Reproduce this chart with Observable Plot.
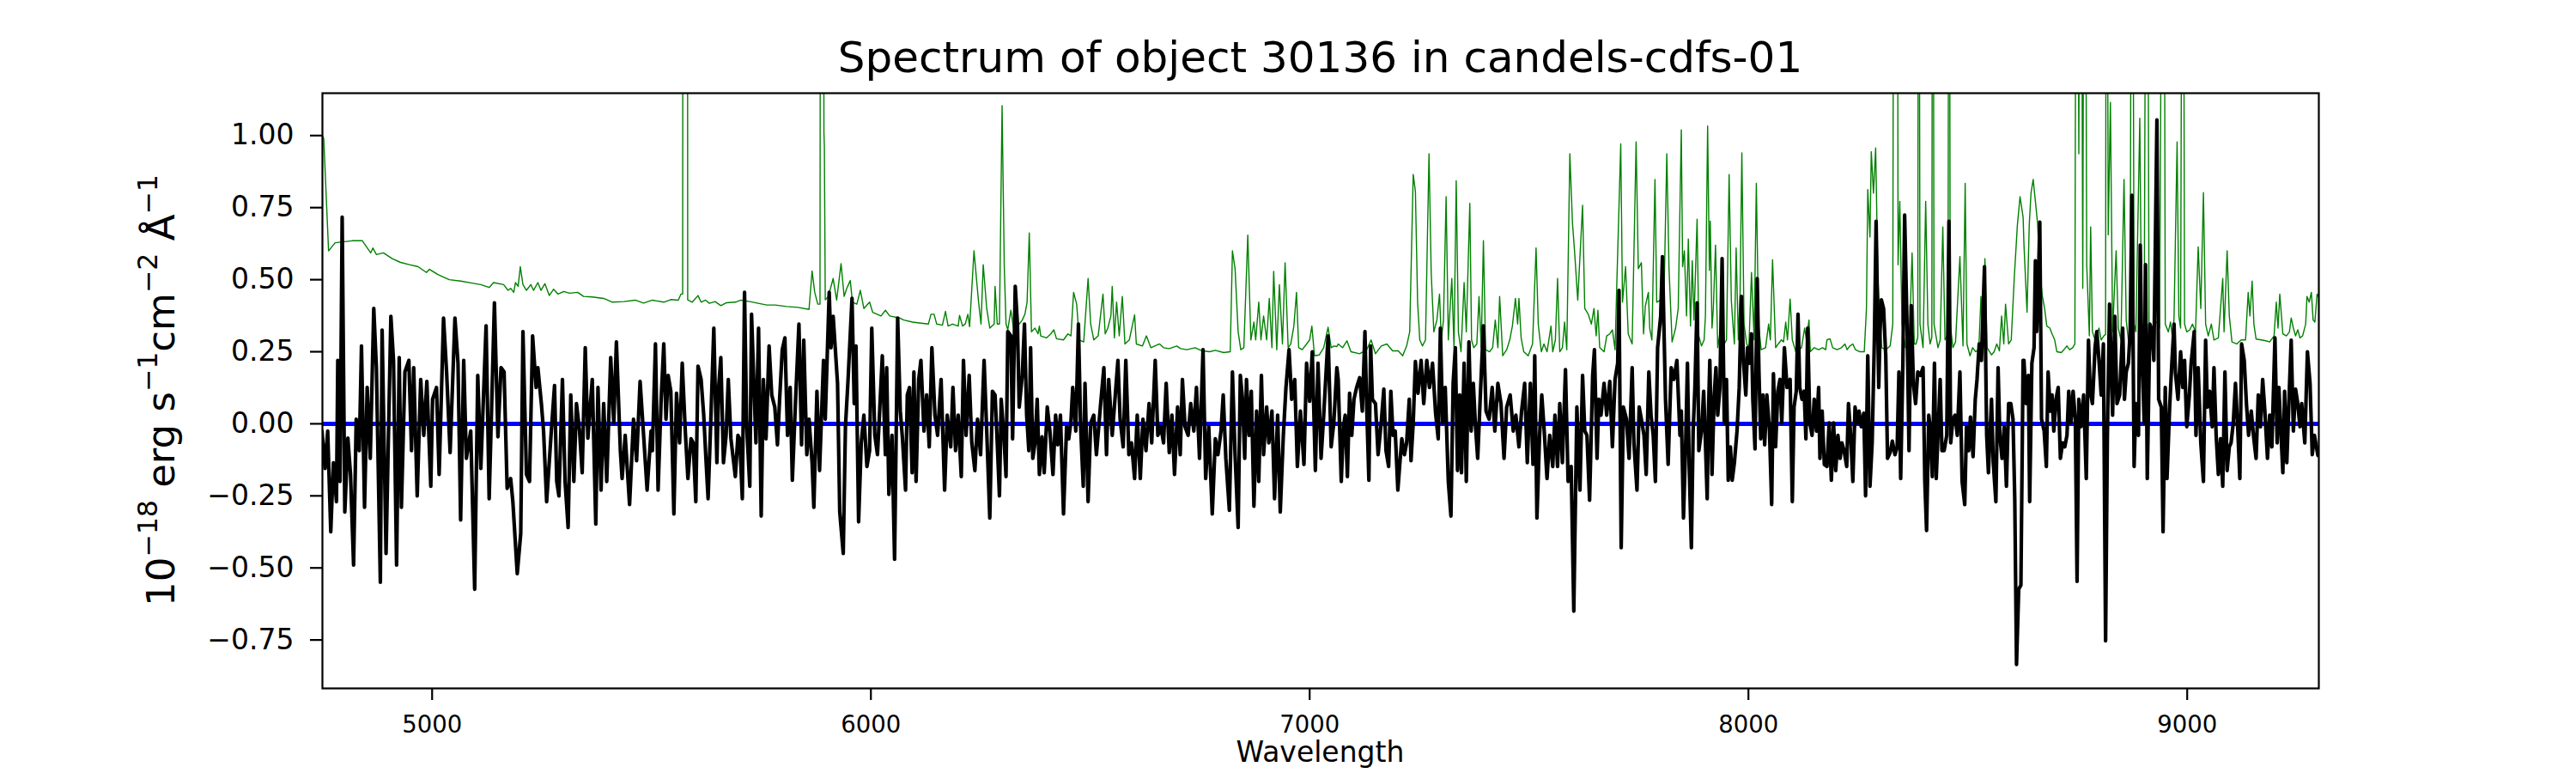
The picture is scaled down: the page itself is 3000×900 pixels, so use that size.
<!DOCTYPE html>
<html><head><meta charset="utf-8">
<script src="https://cdn.jsdelivr.net/npm/d3@7"></script>
<script src="https://cdn.jsdelivr.net/npm/@observablehq/plot@0.6"></script>
<style>
html,body{margin:0;padding:0;background:#fff;}
#chart{width:3000px;height:900px;}
</style></head><body><div id="chart"></div>
<script>
const titleText = "Spectrum of object 30136 in candels-cdfs-01";
const xLabelText = "Wavelength";
const xTicks = [5000, 6000, 7000, 8000, 9000];
const yTicks = [-0.75, -0.5, -0.25, 0, 0.25, 0.5, 0.75, 1.0];
const xDomain = [4750, 9300];
const yDomain = [-0.918, 1.147];

// observed flux [wavelength, flux]
const flux_A = [[4749,-0.025],[4756,-0.155],[4762,-0.025],[4769,-0.375],[4775,-0.135],[4782,-0.27],[4785,0.22],[4790,-0.20],[4795,0.717],[4801,-0.306],[4808,-0.05],[4814,-0.176],[4821,-0.49],[4827,0.016],[4834,-0.093],[4839,0.27],[4846,-0.29],[4852,0.126],[4859,-0.12],[4867,0.40],[4873,0.195],[4882,-0.55],[4886,0.325],[4895,-0.45],[4906,0.373],[4912,0.22],[4919,-0.49],[4925,0.23],[4930,-0.29],[4938,0.18],[4947,0.22],[4953,-0.093],[4958,0.195],[4966,-0.25],[4974,0.154],[4981,-0.04],[4988,0.147],[4997,-0.217],[5001,0.085],[5010,0.126],[5016,-0.176],[5026,0.367],[5033,0.18],[5041,-0.10],[5052,0.367],[5059,0.21],[5065,-0.334],[5072,0.22],[5078,-0.12],[5088,-0.025],[5097,-0.574],[5104,0.168],[5111,-0.155],[5123,0.34],[5130,-0.26],[5142,0.42],[5150,-0.045],[5157,0.195],[5164,0.18],[5171,-0.224],[5179,-0.19],[5184,-0.27],[5194,-0.52],[5202,-0.38],[5207,0.32],[5215,-0.176],[5222,-0.20],[5229,0.305],[5237,0.126],[5241,0.195],[5249,0.07],[5254,-0.025],[5261,-0.27],[5271,-0.04],[5279,0.133],[5284,-0.20],[5289,-0.25],[5297,0.154],[5303,-0.20],[5310,-0.36],[5316,0.10],[5323,-0.20],[5329,0.07],[5336,-0.025],[5342,-0.17],[5349,0.264],[5355,-0.05],[5365,0.154],[5373,-0.348],[5378,0.126],[5385,-0.23],[5391,0.07],[5398,-0.20],[5407,0.23],[5414,0.003],[5420,0.284],[5429,-0.093],[5433,-0.19],[5440,-0.04],[5450,-0.28],[5459,0.016],[5466,-0.128],[5474,0.147],[5482,-0.04],[5490,-0.23],[5499,-0.025]];
const flux_B = [[5502,-0.093],[5509,0.277],[5515,-0.23],[5522,0.085],[5528,0.277],[5533,0.016],[5538,0.168],[5544,0.113],[5551,-0.313],[5557,0.106],[5564,-0.066],[5570,0.21],[5577,-0.025],[5583,-0.19],[5590,-0.052],[5595,-0.066],[5601,-0.27],[5606,0.20],[5613,0.154],[5619,0.03],[5624,-0.12],[5629,-0.26],[5636,0.05],[5642,0.332],[5649,-0.135],[5653,0.126],[5658,0.23],[5664,-0.135],[5670,-0.04],[5675,0.154],[5681,-0.052],[5691,-0.183],[5697,-0.04],[5701,-0.052],[5707,-0.26],[5712,0.456],[5717,-0.01],[5724,-0.217],[5728,0.38],[5733,0.154],[5738,-0.066],[5744,0.332],[5750,-0.32],[5755,0.154],[5761,-0.052],[5768,0.27],[5774,0.10],[5781,0.058],[5787,-0.073],[5792,0.085],[5798,0.257],[5804,0.298],[5810,-0.04],[5816,0.126],[5821,-0.196],[5828,0.07],[5836,0.346],[5842,-0.073],[5847,0.29],[5854,-0.107],[5859,0.016],[5866,-0.135],[5870,-0.29],[5877,0.113],[5883,-0.162],[5892,0.22],[5896,0.016],[5905,0.456],[5909,0.264],[5914,0.373],[5919,0.257],[5924,0.14],[5929,-0.306],[5937,-0.45],[5942,-0.01],[5948,0.154],[5957,0.435],[5962,0.07],[5966,0.27],[5972,-0.34],[5978,-0.066],[5984,0.03],[5991,-0.148],[5997,-0.093],[6002,0.332],[6009,-0.04],[6015,-0.107],[6020,0.044],[6026,0.236],[6033,-0.107],[6036,0.195],[6041,-0.245],[6048,-0.04],[6054,-0.47],[6061,0.367],[6067,0.044],[6072,-0.052],[6079,-0.23],[6083,0.10],[6088,0.126],[6094,-0.17],[6098,0.18],[6103,-0.20],[6109,0.154],[6114,0.22],[6121,-0.025],[6127,0.10],[6133,-0.08],[6139,0.264],[6146,0.03],[6152,-0.04],[6160,0.154],[6168,-0.23],[6174,0.03],[6182,-0.08],[6187,0.126],[6193,-0.093],[6199,0.03],[6206,-0.183],[6211,0.22],[6217,-0.04],[6224,0.168],[6230,-0.066],[6237,-0.162],[6243,0.016],[6250,-0.107],[6258,0.22],[6264,-0.025],[6271,-0.327],[6277,0.113]];
const flux_C = [[6283,0.10],[6288,-0.066],[6293,-0.25],[6297,0.085],[6303,-0.04],[6308,-0.183],[6312,0.32],[6319,0.305],[6323,-0.052],[6329,0.477],[6334,0.346],[6338,0.058],[6345,0.168],[6350,0.346],[6355,0.03],[6360,-0.093],[6364,0.264],[6369,-0.12],[6374,-0.066],[6379,0.085],[6384,-0.176],[6390,-0.045],[6395,-0.17],[6402,0.058],[6408,-0.025],[6415,-0.176],[6421,0.03],[6426,-0.073],[6432,0.03],[6439,-0.313],[6446,-0.01],[6451,-0.052],[6456,0.01],[6460,0.126],[6467,-0.025],[6473,0.346],[6478,-0.01],[6484,-0.217],[6488,0.14],[6495,-0.27],[6501,0.003],[6508,0.03],[6514,-0.107],[6523,0.058],[6531,0.195],[6537,-0.107],[6542,0.154],[6550,-0.04],[6557,0.10],[6563,0.22],[6568,0.016],[6575,-0.08],[6581,0.22],[6588,-0.107],[6594,-0.066],[6601,-0.19],[6607,0.03],[6614,-0.19],[6620,0.016],[6627,-0.093],[6634,0.07],[6640,-0.066],[6648,0.22],[6654,-0.04],[6661,-0.01],[6667,-0.066],[6673,0.14],[6680,-0.10],[6686,0.03],[6692,-0.176],[6699,0.058],[6705,-0.107],[6710,0.154],[6716,-0.01],[6723,-0.04],[6729,0.07],[6736,-0.025],[6742,0.126],[6749,-0.12],[6757,0.257],[6763,-0.19],[6770,-0.01],[6778,-0.313],[6785,-0.052],[6791,-0.107],[6798,-0.025],[6803,0.10],[6809,-0.12],[6817,-0.30],[6824,0.18],[6830,-0.107],[6837,-0.36],[6842,0.168],[6847,0.085],[6852,-0.12],[6856,0.154],[6862,-0.04],[6867,0.113],[6873,-0.286],[6879,0.044],[6884,-0.20],[6890,0.168],[6895,-0.107],[6902,0.058],[6907,-0.066],[6914,0.044],[6920,-0.26],[6927,0.03],[6933,-0.306],[6940,-0.04],[6946,0.126],[6953,0.257],[6959,0.085],[6966,0.154],[6972,-0.148],[6979,0.044],[6987,-0.141],[6993,0.21],[7000,0.078],[7006,0.25],[7013,-0.162],[7019,0.21],[7026,-0.12],[7032,0.03],[7042,0.305],[7049,-0.08],[7055,0.003],[7062,0.195]];
const flux_D = [[7065,0.154],[7072,-0.20],[7077,-0.01],[7081,0.03],[7086,-0.183],[7091,0.106],[7096,-0.04],[7101,0.085],[7107,0.126],[7114,0.16],[7120,0.044],[7126,0.32],[7130,0.058],[7135,-0.196],[7139,0.27],[7143,0.085],[7150,0.07],[7156,-0.107],[7163,0.003],[7169,0.12],[7174,-0.093],[7180,-0.148],[7185,0.113],[7190,-0.04],[7195,-0.025],[7201,-0.23],[7205,-0.148],[7210,-0.052],[7216,-0.107],[7221,-0.066],[7227,0.085],[7231,-0.128],[7236,0.003],[7241,0.216],[7247,0.106],[7254,0.22],[7260,0.07],[7267,0.22],[7273,0.126],[7280,0.21],[7287,0.037],[7293,-0.052],[7298,0.332],[7303,0.003],[7309,0.126],[7316,-0.20],[7322,-0.32],[7327,0.14],[7332,0.264],[7337,-0.162],[7342,0.10],[7346,-0.17],[7352,0.21],[7357,-0.20],[7363,0.284],[7368,-0.025],[7373,0.14],[7378,-0.01],[7383,-0.12],[7389,0.10],[7396,0.34],[7402,0.044],[7409,0.016],[7416,0.126],[7422,-0.025],[7429,0.14],[7436,0.07],[7443,-0.12],[7449,0.058],[7457,0.10],[7464,-0.025],[7470,0.03],[7477,-0.08],[7483,0.044],[7490,0.14],[7496,-0.135],[7503,0.14],[7509,-0.141],[7513,0.236],[7518,-0.327],[7524,-0.04],[7529,0.10],[7534,-0.01],[7541,-0.19],[7547,-0.04],[7554,-0.148],[7559,0.03],[7565,-0.148],[7570,0.07],[7576,-0.135],[7583,0.188],[7589,-0.20],[7596,-0.148],[7602,-0.65],[7609,0.058],[7616,-0.23],[7622,0.168],[7627,-0.025],[7632,-0.04],[7638,-0.265],[7645,0.168],[7649,0.257],[7655,-0.12],[7659,0.085],[7664,0.03],[7671,0.14],[7677,0.03],[7684,0.147],[7690,-0.08],[7696,0.154],[7702,0.21],[7705,0.463],[7710,-0.43],[7715,0.058],[7722,0.016],[7728,-0.12],[7735,0.195],[7739,-0.066],[7746,-0.23],[7751,0.058],[7756,0.016],[7762,-0.04],[7767,-0.176],[7773,0.18],[7778,0.03],[7783,-0.04],[7788,-0.20],[7793,0.264],[7800,0.373],[7804,0.58],[7811,0.085],[7817,-0.141],[7824,0.195],[7830,0.154],[7837,0.22],[7844,-0.04]];
const flux_E = [[7847,0.044],[7852,-0.327],[7857,-0.066],[7861,0.21],[7865,-0.148],[7870,-0.43],[7874,-0.025],[7878,0.126],[7883,0.42],[7887,-0.093],[7893,-0.025],[7898,0.113],[7902,-0.066],[7906,-0.26],[7909,0.044],[7912,0.22],[7917,-0.176],[7922,0.10],[7926,0.195],[7930,0.03],[7935,0.126],[7940,0.573],[7945,0.003],[7950,0.154],[7954,-0.196],[7959,-0.08],[7963,-0.196],[7968,-0.135],[7974,-0.025],[7979,0.126],[7984,0.442],[7989,0.21],[7994,0.10],[7998,0.264],[8002,0.21],[8007,0.312],[8010,0.085],[8015,-0.087],[8020,0.504],[8024,0.18],[8028,-0.052],[8033,0.10],[8037,-0.073],[8042,0.10],[8048,-0.025],[8053,-0.28],[8057,0.174],[8062,-0.08],[8067,0.113],[8072,0.154],[8076,0.003],[8082,0.264],[8088,0.126],[8095,0.154],[8100,-0.27],[8104,0.058],[8109,0.113],[8113,0.38],[8117,0.126],[8122,0.085],[8127,0.113],[8131,-0.052],[8135,0.332],[8140,0.003],[8145,-0.04],[8150,0.085],[8155,-0.025],[8160,0.126],[8163,-0.12],[8168,0.044],[8173,-0.141],[8179,-0.148],[8184,0.003],[8189,-0.196],[8194,0.003],[8199,-0.162],[8204,-0.04],[8209,-0.12],[8213,-0.066],[8218,-0.093],[8224,-0.148],[8228,0.07],[8233,-0.04],[8238,-0.20],[8243,0.058],[8248,0.003],[8252,0.044],[8257,-0.01],[8263,0.037],[8267,-0.25],[8272,0.236],[8277,-0.217],[8282,-0.066],[8287,0.29],[8291,0.703],[8297,0.126],[8300,0.32],[8303,0.43],[8308,0.40],[8313,0.236],[8317,-0.12],[8323,-0.10],[8328,-0.06],[8334,-0.107],[8339,-0.08],[8343,0.18],[8347,-0.19],[8352,0.21],[8356,0.724],[8362,0.305],[8366,-0.093],[8371,0.41],[8376,0.14],[8381,0.07],[8386,0.18],[8392,0.168],[8398,0.195],[8402,-0.20],[8406,-0.37],[8411,0.03],[8415,-0.025],[8419,-0.183],[8424,0.21],[8428,-0.19],[8432,-0.04],[8437,0.154],[8441,-0.093],[8446,-0.093],[8452,-0.04],[8457,0.703],[8461,-0.066],[8466,0.016],[8471,0.03],[8476,-0.04],[8482,0.18],[8487,-0.20],[8493,-0.28],[8497,-0.01],[8502,-0.093],[8506,0.023],[8512,-0.114],[8517,0.085],[8521,0.154],[8526,0.277],[8531,0.22],[8538,0.545],[8543,-0.04],[8547,-0.17],[8554,0.085],[8558,-0.135],[8564,-0.27],[8569,0.195],[8573,-0.04],[8578,-0.12],[8583,-0.01],[8588,-0.217],[8593,0.07],[8598,0.07],[8603,0.016],[8607,-0.26],[8611,-0.835],[8616,-0.574],[8621,-0.56],[8626,0.22]];
const flux_F = [[8628,0.22],[8633,0.07],[8638,0.168],[8641,-0.27],[8646,0.21],[8651,0.264],[8654,0.566],[8657,0.32],[8661,0.50],[8664,0.70],[8668,0.016],[8674,-0.025],[8679,-0.148],[8683,0.18],[8688,0.044],[8692,0.10],[8696,-0.025],[8701,0.085],[8706,0.126],[8711,-0.12],[8716,-0.066],[8721,-0.08],[8726,-0.04],[8730,0.113],[8735,0.003],[8740,0.113],[8745,0.016],[8749,-0.547],[8753,0.085],[8758,-0.01],[8764,0.10],[8766,0.003],[8770,-0.19],[8775,0.29],[8779,0.113],[8784,0.07],[8790,0.264],[8794,0.32],[8799,0.22],[8804,0.10],[8809,0.277],[8814,-0.753],[8818,-0.052],[8823,0.415],[8830,0.03],[8835,0.373],[8840,0.07],[8846,0.10],[8853,0.332],[8857,0.085],[8861,0.18],[8866,0.21],[8870,0.32],[8874,0.793],[8879,-0.148],[8883,0.07],[8889,-0.04],[8893,0.62],[8896,0.29],[8902,0.003],[8905,0.552],[8909,-0.19],[8915,0.346],[8920,0.32],[8924,0.22],[8931,1.054],[8935,0.085],[8941,0.058],[8945,-0.375],[8950,0.126],[8954,-0.19],[8960,0.058],[8965,0.21],[8970,0.346],[8973,0.18],[8979,0.085],[8985,0.25],[8990,0.126],[8994,0.22],[8999,-0.01],[9005,0.10],[9009,0.21],[9016,0.32],[9020,-0.04],[9025,0.195],[9031,-0.066],[9037,-0.20],[9042,0.29],[9046,0.058],[9051,0.113],[9057,-0.01],[9061,0.195],[9066,-0.04],[9071,-0.176],[9076,-0.052],[9081,-0.217],[9086,0.18],[9091,-0.162],[9096,-0.08],[9100,-0.066],[9105,0.003],[9110,0.14],[9115,-0.01],[9120,-0.19],[9124,0.277],[9130,0.22],[9135,0.07],[9140,-0.04],[9146,0.044],[9151,-0.04],[9157,-0.12],[9162,0.10],[9167,-0.01],[9172,0.154],[9177,0.044],[9183,-0.12],[9188,0.03],[9193,-0.08],[9200,0.298],[9205,-0.066],[9209,0.126],[9213,-0.01],[9218,-0.17],[9222,0.113],[9227,-0.135],[9233,0.126],[9237,0.29],[9242,-0.025],[9247,0.12],[9252,0.07],[9257,-0.01],[9261,0.07],[9268,-0.066],[9274,0.25],[9280,0.14],[9285,-0.107],[9290,-0.04],[9298,-0.11]];

// noise spectrum [wavelength, value]
const noise_A = [[4750,1.0],[4753,0.99],[4764,0.60],[4779,0.628],[4818,0.635],[4841,0.635],[4860,0.593],[4865,0.61],[4873,0.587],[4889,0.593],[4909,0.573],[4928,0.56],[4948,0.552],[4968,0.545],[4987,0.525],[4994,0.536],[5013,0.518],[5039,0.50],[5065,0.495],[5091,0.488],[5111,0.483],[5130,0.473],[5140,0.49],[5163,0.483],[5173,0.463],[5179,0.47],[5186,0.456],[5190,0.49],[5196,0.477],[5201,0.545],[5207,0.483],[5215,0.463],[5225,0.483],[5231,0.463],[5241,0.49],[5248,0.463],[5257,0.486],[5267,0.445],[5277,0.467],[5287,0.45],[5300,0.459],[5313,0.453],[5332,0.456],[5345,0.442],[5365,0.44],[5391,0.435],[5411,0.422],[5437,0.424],[5463,0.429],[5482,0.419],[5502,0.429]];
const noise_B = [[5528,0.422],[5544,0.431],[5561,0.429],[5567,0.45],[5571,0.45],[5572.5,6],[5581,6],[5582.5,0.43],[5593,0.422],[5606,0.445],[5613,0.422],[5623,0.429],[5632,0.418],[5645,0.424],[5658,0.41],[5671,0.42],[5691,0.422],[5704,0.429],[5724,0.424],[5743,0.418],[5763,0.412],[5782,0.412],[5808,0.407],[5834,0.404],[5859,0.397],[5866,0.53],[5872,0.456],[5879,0.415],[5884,0.415],[5885.5,3],[5891,3],[5893,1.01],[5894,0.96],[5896,0.43],[5903,0.442],[5914,0.504],[5922,0.429],[5932,0.556],[5939,0.442],[5945,0.47],[5953,0.497],[5958,0.422],[5968,0.415],[5976,0.463],[5984,0.40],[5997,0.422],[6004,0.387],[6023,0.374],[6033,0.394],[6043,0.374],[6066,0.367],[6075,0.36],[6095,0.353],[6114,0.349],[6131,0.346],[6137,0.38],[6144,0.38],[6150,0.346],[6163,0.342],[6170,0.39],[6176,0.339],[6186,0.346],[6199,0.339],[6202,0.376],[6209,0.339],[6215,0.346],[6221,0.38],[6225,0.337],[6235,0.60],[6245,0.429],[6251,0.346],[6256,0.552],[6264,0.40],[6271,0.332],[6281,0.346]];
const noise_C = [[6283,0.477],[6288,0.346],[6293,0.346],[6299,1.104],[6304,0.545],[6308,0.346],[6312,0.326],[6319,0.394],[6325,0.332],[6332,0.326],[6338,0.346],[6345,0.36],[6351,0.38],[6356,0.422],[6361,0.662],[6366,0.319],[6374,0.332],[6381,0.312],[6384,0.339],[6387,0.305],[6400,0.298],[6410,0.312],[6417,0.326],[6423,0.295],[6439,0.291],[6449,0.312],[6456,0.305],[6462,0.456],[6469,0.415],[6475,0.291],[6485,0.284],[6495,0.504],[6501,0.346],[6508,0.291],[6518,0.305],[6529,0.45],[6534,0.312],[6540,0.332],[6547,0.374],[6550,0.477],[6555,0.298],[6560,0.422],[6566,0.305],[6573,0.442],[6579,0.277],[6589,0.291],[6601,0.378],[6605,0.277],[6619,0.27],[6628,0.305],[6638,0.264],[6658,0.277],[6667,0.264],[6680,0.261],[6697,0.27],[6706,0.261],[6720,0.257],[6739,0.264],[6755,0.253],[6772,0.25],[6785,0.255],[6804,0.247],[6819,0.25],[6824,0.60],[6830,0.538],[6837,0.319],[6843,0.257],[6850,0.264],[6859,0.655],[6866,0.291],[6873,0.353],[6877,0.291],[6884,0.422],[6889,0.291],[6895,0.374],[6902,0.291],[6908,0.435],[6914,0.264],[6918,0.529],[6925,0.257],[6931,0.483],[6938,0.277],[6944,0.559],[6951,0.264],[6957,0.277],[6964,0.339],[6970,0.456],[6975,0.264],[6983,0.257],[6993,0.277],[7000,0.291],[7005,0.339],[7011,0.236],[7022,0.239],[7032,0.264],[7042,0.335],[7049,0.264],[7055,0.27],[7062,0.268]];
const noise_D = [[7065,0.277],[7075,0.264],[7085,0.288],[7094,0.25],[7114,0.243],[7130,0.257],[7140,0.291],[7150,0.243],[7163,0.27],[7176,0.277],[7189,0.253],[7202,0.253],[7212,0.236],[7221,0.27],[7228,0.319],[7236,0.865],[7241,0.806],[7246,0.422],[7251,0.291],[7257,0.27],[7264,0.291],[7272,0.937],[7277,0.525],[7283,0.319],[7290,0.36],[7296,0.45],[7300,0.291],[7305,0.36],[7311,0.788],[7316,0.291],[7319,0.374],[7324,0.504],[7329,0.264],[7334,0.843],[7339,0.319],[7345,0.25],[7352,0.49],[7357,0.319],[7365,0.765],[7369,0.291],[7374,0.264],[7381,0.277],[7386,0.442],[7391,0.264],[7396,0.635],[7401,0.257],[7410,0.25],[7417,0.264],[7423,0.36],[7429,0.264],[7433,0.442],[7440,0.236],[7449,0.257],[7456,0.291],[7462,0.339],[7469,0.435],[7474,0.346],[7477,0.435],[7482,0.298],[7488,0.25],[7498,0.236],[7508,0.277],[7516,0.61],[7521,0.346],[7528,0.25],[7534,0.277],[7541,0.25],[7550,0.339],[7554,0.25],[7560,0.291],[7565,0.504],[7570,0.25],[7576,0.264],[7581,0.353],[7586,0.257],[7593,0.937],[7599,0.696],[7604,0.593],[7611,0.429],[7622,0.758],[7627,0.40],[7635,0.38],[7642,0.346],[7648,0.40],[7653,0.305],[7657,0.394],[7661,0.264],[7671,0.25],[7677,0.305],[7684,0.312],[7690,0.326],[7696,0.257],[7700,0.483],[7709,0.971],[7713,0.422],[7720,0.545],[7726,0.312],[7735,0.277],[7744,0.978],[7749,0.538],[7756,0.559],[7761,0.312],[7765,0.408],[7772,0.456],[7775,0.332],[7780,0.291],[7787,0.848],[7791,0.422],[7800,0.429],[7806,0.319],[7814,0.937],[7819,0.538],[7826,0.284],[7834,0.332],[7840,0.40],[7847,1.02]];
const noise_E = [[7850,0.545],[7854,0.60],[7859,0.374],[7863,0.641],[7868,0.339],[7872,0.566],[7876,0.36],[7883,0.71],[7887,0.305],[7893,0.27],[7899,0.291],[7902,0.374],[7907,1.033],[7911,0.532],[7913,0.703],[7917,0.332],[7920,0.40],[7925,0.62],[7930,0.264],[7938,0.346],[7945,0.277],[7950,0.291],[7956,0.865],[7961,0.429],[7964,0.36],[7968,0.277],[7972,0.61],[7977,0.291],[7981,0.456],[7985,0.94],[7990,0.346],[7996,0.277],[8001,0.264],[8007,0.525],[8013,0.291],[8018,0.834],[8023,0.346],[8029,0.257],[8039,0.264],[8046,0.346],[8050,0.291],[8055,0.569],[8062,0.264],[8068,0.277],[8075,0.291],[8080,0.284],[8085,0.353],[8089,0.291],[8095,0.433],[8100,0.291],[8108,0.25],[8121,0.264],[8128,0.332],[8132,0.291],[8138,0.36],[8141,0.25],[8150,0.264],[8160,0.257],[8169,0.264],[8176,0.257],[8179,0.291],[8186,0.295],[8192,0.264],[8202,0.257],[8212,0.264],[8220,0.277],[8225,0.257],[8231,0.27],[8238,0.277],[8244,0.257],[8254,0.25],[8264,0.25],[8269,0.40],[8272,0.813],[8277,0.648],[8280,0.944],[8285,0.80],[8290,0.957],[8295,0.511],[8300,0.346],[8304,0.264],[8313,0.257],[8323,0.27],[8329,0.346],[8332,3],[8339,3],[8341,0.552],[8345,0.772],[8350,0.346],[8358,0.264],[8365,0.277],[8368,0.346],[8373,0.593],[8378,0.277],[8382,0.277],[8386,0.3],[8388,3],[8391,0.346],[8398,0.264],[8404,0.772],[8409,0.346],[8414,0.277],[8418,0.3],[8420,3],[8423,0.346],[8432,0.264],[8437,0.291],[8443,0.683],[8448,0.291],[8453,0.305],[8455,0.32],[8457,3],[8460,0.346],[8466,0.264],[8472,0.284],[8482,0.58],[8489,0.27],[8494,0.834],[8498,0.277],[8505,0.236],[8511,0.264],[8518,0.25],[8525,0.257],[8530,0.442],[8534,0.264],[8539,0.573],[8544,0.264],[8554,0.239],[8560,0.25],[8566,0.277],[8572,0.253],[8577,0.374],[8582,0.277],[8586,0.415],[8593,0.277],[8599,0.291],[8606,0.511],[8613,0.69],[8619,0.788],[8626,0.717]];
const noise_F = [[8628,0.62],[8635,0.387],[8640,0.69],[8644,0.80],[8649,0.848],[8654,0.772],[8659,0.696],[8664,0.525],[8670,0.442],[8675,0.40],[8680,0.339],[8687,0.332],[8692,0.312],[8698,0.291],[8703,0.25],[8713,0.247],[8719,0.257],[8726,0.27],[8732,0.257],[8739,0.264],[8744,0.277],[8748,3],[8753,0.937],[8757,3],[8762,0.47],[8766,3],[8771,0.552],[8777,0.305],[8780,0.683],[8784,0.319],[8790,0.291],[8799,0.332],[8804,0.291],[8810,0.305],[8814,0.31],[8816,3],[8820,0.655],[8825,1.115],[8830,0.319],[8838,0.60],[8843,0.332],[8849,0.291],[8856,0.848],[8861,0.36],[8866,0.291],[8870,0.3],[8874,3],[8879,0.346],[8883,0.319],[8892,1.06],[8896,0.346],[8902,0.332],[8908,3],[8913,0.346],[8918,0.319],[8924,0.346],[8931,0.353],[8937,0.332],[8946,3],[8950,0.346],[8957,0.319],[8962,0.353],[8967,0.291],[8970,0.367],[8977,0.978],[8981,0.374],[8985,0.332],[8990,3],[8994,0.346],[8999,0.319],[9006,0.326],[9012,0.346],[9019,0.319],[9025,0.614],[9031,0.40],[9037,0.802],[9042,0.346],[9048,0.305],[9055,0.346],[9061,0.291],[9071,0.298],[9081,0.504],[9084,0.319],[9091,0.60],[9096,0.374],[9102,0.284],[9113,0.277],[9123,0.291],[9133,0.291],[9139,0.456],[9143,0.374],[9148,0.495],[9152,0.346],[9157,0.294],[9169,0.291],[9179,0.288],[9188,0.284],[9198,0.305],[9203,0.422],[9207,0.332],[9211,0.45],[9218,0.312],[9226,0.305],[9233,0.319],[9237,0.367],[9242,0.332],[9247,0.305],[9252,0.326],[9257,0.298],[9263,0.305],[9270,0.346],[9273,0.442],[9278,0.422],[9283,0.456],[9287,0.36],[9291,0.353],[9296,0.45],[9300,0.44]];

// model (continuum) [wavelength, value]
const model = [[4750,0],[9300,0]];

const toRows = arr => arr.map(([w, f]) => ({w, f}));
const flux = toRows([].concat(flux_A, flux_B, flux_C, flux_D, flux_E, flux_F));
const noise = toRows([].concat(noise_A, noise_B, noise_C, noise_D, noise_E, noise_F));
const modelRows = toRows(model);

const FONT = "DejaVu Sans";
const fmtY = d => (d < 0 ? "\u2212" : "") + Math.abs(d).toFixed(2);

const plot = Plot.plot({
  width: 3000,
  height: 900,
  marginLeft: 375,
  marginRight: 300,
  marginTop: 108,
  marginBottom: 99,
  style: {fontFamily: FONT, color: "black", background: "white", overflow: "visible"},
  x: {domain: xDomain, label: null},
  y: {domain: yDomain, label: null},
  marks: [
    Plot.line(noise, {x: "w", y: "f", stroke: "#008000", strokeWidth: 1.4, clip: true}),
    Plot.line(modelRows, {x: "w", y: "f", stroke: "#0000ff", strokeWidth: 5, clip: true}),
    Plot.line(flux, {x: "w", y: "f", stroke: "#000000", strokeWidth: 4.2, clip: true, strokeLinejoin: "round"}),
    Plot.frame({stroke: "black", strokeWidth: 2.2}),
    Plot.axisY({ticks: yTicks, tickFormat: fmtY, tickSize: 14, tickPadding: 19, fontSize: 33, strokeWidth: 2.2, label: null}),
    Plot.axisX({ticks: xTicks, tickFormat: d => String(d), tickSize: 14, tickPadding: 18, fontSize: 27.5, strokeWidth: 2.2, label: null})
  ]
});

const svg = d3.select(plot);
svg.append("text")
  .attr("x", 1537.5).attr("y", 84)
  .attr("text-anchor", "middle")
  .attr("font-family", FONT).attr("font-size", 50).attr("fill", "black")
  .text(titleText);
svg.append("text")
  .attr("x", 1537.5).attr("y", 887)
  .attr("text-anchor", "middle")
  .attr("font-family", FONT).attr("font-size", 33).attr("fill", "black")
  .text(xLabelText);

const yl = svg.append("text")
  .attr("transform", "translate(203,454.5) rotate(-90)")
  .attr("text-anchor", "middle")
  .attr("font-family", FONT).attr("font-size", 45).attr("fill", "black");
const parts = [["10", false], ["\u221218", true], [" erg s", false], ["\u22121", true], ["cm", false], ["\u22122", true], [" \u00C5", false], ["\u22121", true]];
let raised = false;
for (const [t, sup] of parts) {
  const ts = yl.append("tspan").text(t);
  if (sup && !raised) { ts.attr("dy", -20).attr("font-size", 31.5); raised = true; }
  else if (sup) { ts.attr("font-size", 31.5); }
  else if (!sup && raised) { ts.attr("dy", 20); raised = false; }
}

document.getElementById("chart").appendChild(plot);
</script>
</body></html>
